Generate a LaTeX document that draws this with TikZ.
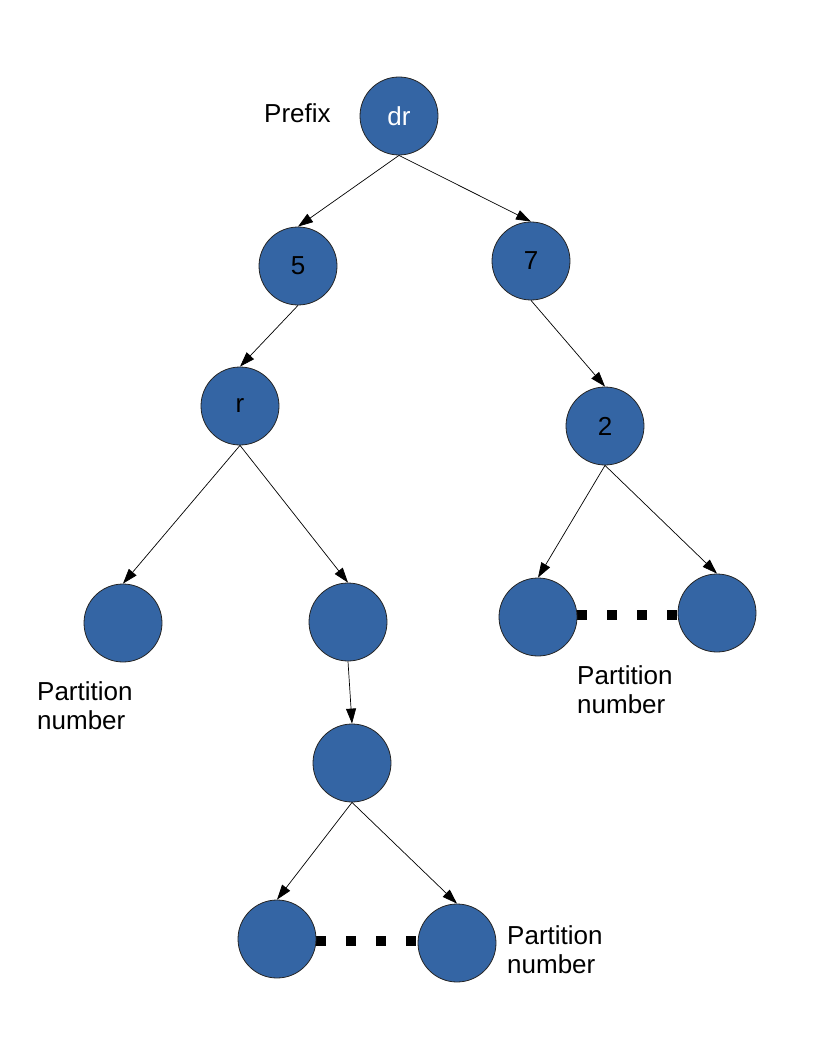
\documentclass[tikz,border=0pt]{standalone}
\usepackage{fontspec}
\setmainfont{Liberation Sans}
\usetikzlibrary{arrows.meta,backgrounds}
\definecolor{nodeblue}{HTML}{3465A4}
\begin{document}
\begin{tikzpicture}[x=1pt,y=-1pt,
  treenode/.style={circle,fill=nodeblue,draw=black!85,line width=0.8pt,
    minimum size=78pt,inner sep=0pt,font=\fontsize{26}{29}\selectfont},
  link/.style={line width=0.7pt,-{Triangle[length=15pt,width=10pt]}},
  ellipsis/.style={line width=10pt,dash pattern=on 10pt off 20pt},
  note/.style={align=left,anchor=west,inner sep=0pt,font=\fontsize{26}{29}\selectfont}]
\useasboundingbox (0,0) rectangle (816,1056);
% tree nodes
\node[treenode,text=white] (dr) at (399,116) {dr};
\node[treenode] (n5) at (298,266) {5};
\node[treenode] (n7) at (531,261) {7};
\node[treenode] (r) at (240,406) {r};
\node[treenode] (n2) at (605,426) {2};
\node[treenode] (l1) at (123,623) {};
\node[treenode] (l2) at (348,622) {};
\node[treenode] (q1) at (538,617) {};
\node[treenode] (q2) at (717,613) {};
\node[treenode] (m) at (352,763) {};
\node[treenode] (b1) at (277,939) {};
\node[treenode] (b2) at (457,943) {};
% labels
\node[note] (prefix) at (264,113) {Prefix};
\node[note] (pn1) at (37,706) {Partition\\number};
\node[note] (pn2) at (577,690) {Partition\\number};
\node[note] (pn3) at (507,950) {Partition\\number};
% connectors
\draw[link] (dr.south) -- (n5.north);
\draw[link] (dr.south) -- (n7.north);
\draw[link] (n5.south) -- (r.north);
\draw[link] (n7.south) -- (n2.north);
\draw[link] (r.south) -- (l1.north);
\draw[link] (r.south) -- (l2.north);
\draw[link] (n2.south) -- (q1.north);
\draw[link] (n2.south) -- (q2.north);
\draw[link] (l2.south) -- (m.north);
\draw[link] (m.south) -- (b1.north);
\draw[link] (m.south) -- (b2.north);
% elided siblings
\begin{scope}[on background layer]
\coordinate (qe) at (q1.east |- 0,615);
\coordinate (qw) at (q2.west |- 0,615);
\draw[ellipsis] (qe) -- (qw);
\coordinate (be) at (b1.east |- 0,941);
\coordinate (bw) at (b2.west |- 0,941);
\draw[ellipsis] (be) -- (bw);
\end{scope}
\end{tikzpicture}
\end{document}
